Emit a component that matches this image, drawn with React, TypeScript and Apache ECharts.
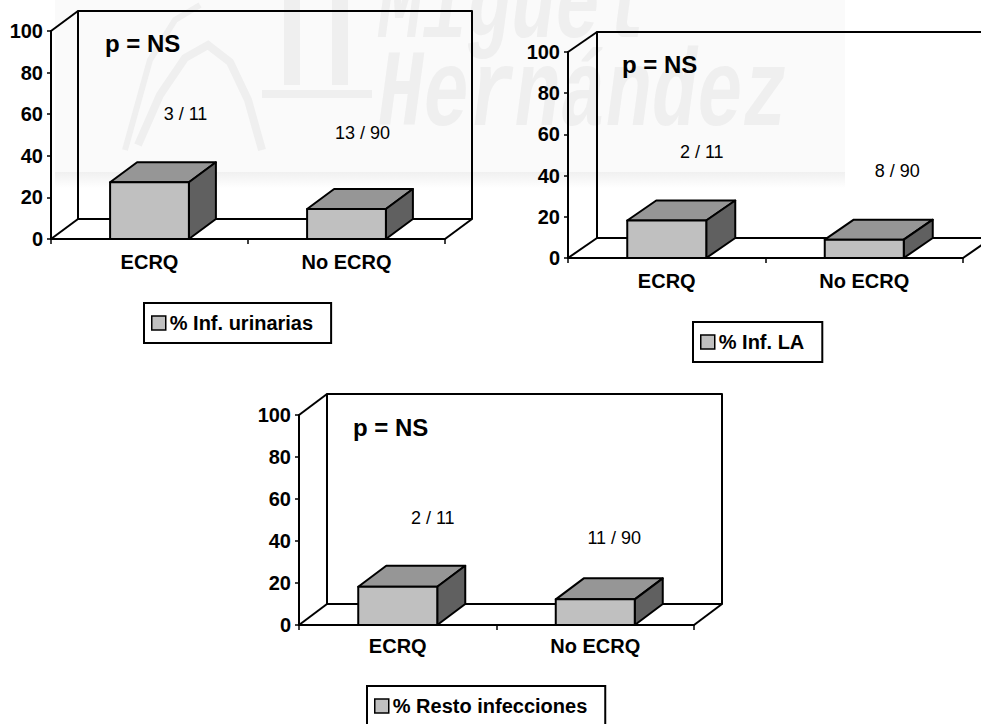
import React, { useEffect, useRef } from "react";
import * as echarts from "echarts";

// ---- data ----
const categories = ["ECRQ", "No ECRQ"];
const seriesNames = ["% Inf. urinarias", "% Inf. LA", "% Resto infecciones"];
// infected patients per group (ECRQ, No ECRQ) for each infection type
const infectedCounts = [
  [3, 13],
  [2, 8],
  [2, 11],
];
// patients per group (ECRQ, No ECRQ)
const groupTotals = [11, 90];
const pValueText = "p = NS";
const axisMin = 0;
const axisMax = 100;
const axisStep = 20;

// ---- layout ----
const FONT = 'Arial, "Liberation Sans", Helvetica, sans-serif';
const panels = [
  { left: 51, top: 31, width: 394, height: 208, depth: [27, -20], legendLeft: 144, legendTop: 303, catMargin: 13 },
  { left: 568, top: 52, width: 395, height: 206, depth: [29, -20], legendLeft: 693, legendTop: 322, catMargin: 13 },
  { left: 299, top: 415, width: 395, height: 210, depth: [28, -21], legendLeft: 367, legendTop: 686, catMargin: 11 },
];
// where each count label sits, relative to the top centre of the bar's front face
const countLabelShift = [
  [[36, -68], [16, -76]],
  [[35, -69], [33, -69]],
  [[35, -69], [19, -61]],
];

const FRONT = "#c0c0c0";
const TOP = "#969696";
const SIDE = "#606060";

function buildOption() {
  const grid = panels.map((p) => ({ left: p.left, top: p.top, width: p.width, height: p.height, containLabel: false }));

  const xAxis = panels.map((p, i) => ({
    type: "category",
    gridIndex: i,
    data: categories,
    axisLine: { show: true, lineStyle: { color: "#000", width: 2 } },
    axisTick: { show: true, length: 5, lineStyle: { color: "#000", width: 1.5 } },
    axisLabel: { color: "#000", fontWeight: "bold", fontSize: 20, fontFamily: FONT, margin: p.catMargin },
    splitLine: { show: false },
  }));

  const yAxis = panels.map((_, i) => ({
    type: "value",
    gridIndex: i,
    min: axisMin,
    max: axisMax,
    interval: axisStep,
    axisLine: { show: true, lineStyle: { color: "#000", width: 2 } },
    axisTick: { show: true, length: 4, lineStyle: { color: "#000", width: 1.5 } },
    axisLabel: { color: "#000", fontWeight: "bold", fontSize: 20, fontFamily: FONT, margin: 8 },
    splitLine: { show: false },
  }));

  const series: any[] = [];
  panels.forEach((p, i) => {
    const [dx, dy] = p.depth;
    // back wall, floor and side edges of the box
    series.push({
      type: "custom",
      name: "frame" + i,
      xAxisIndex: i,
      yAxisIndex: i,
      silent: true,
      z: 1,
      data: [[0, 0]],
      renderItem: (params: any) => {
        const cs = params.coordSys;
        const x = cs.x, y = cs.y, w = cs.width, h = cs.height;
        const line = { stroke: "#000", lineWidth: 2, fill: null, lineJoin: "round" };
        return {
          type: "group",
          children: [
            { type: "rect", shape: { x: x + dx, y: y + dy, width: w, height: h }, style: { ...line, fill: "none" } },
            { type: "line", shape: { x1: x, y1: y, x2: x + dx, y2: y + dy }, style: line },
            { type: "line", shape: { x1: x, y1: y + h, x2: x + dx, y2: y + h + dy }, style: line },
            { type: "line", shape: { x1: x + w, y1: y + h, x2: x + w + dx, y2: y + h + dy }, style: line },
          ],
        };
      },
    });

    // 3D bars with the count labels
    const data = categories.map((_, k) => [k, (infectedCounts[i][k] / groupTotals[k]) * 100]);
    series.push({
      type: "custom",
      name: seriesNames[i],
      xAxisIndex: i,
      yAxisIndex: i,
      z: 3,
      itemStyle: { color: FRONT, borderColor: "#000", borderWidth: 1.5 },
      encode: { x: 0, y: 1 },
      data,
      renderItem: (params: any, api: any) => {
        const k = api.value(0);
        const v = api.value(1);
        const topPt = api.coord([k, v]);
        const basePt = api.coord([k, 0]);
        const bw = api.size([1, 0])[0] * 0.4;
        const l = topPt[0] - bw / 2;
        const r = topPt[0] + bw / 2;
        const yt = topPt[1];
        const yb = basePt[1];
        const edge = { stroke: "#000", lineWidth: 2, lineJoin: "round" };
        const shift = countLabelShift[i][k];
        const label = infectedCounts[i][k] + " / " + groupTotals[k];
        return {
          type: "group",
          children: [
            { type: "polygon", shape: { points: [[l, yt], [l + dx, yt + dy], [r + dx, yt + dy], [r, yt]] }, style: { ...edge, fill: TOP } },
            { type: "polygon", shape: { points: [[r, yt], [r + dx, yt + dy], [r + dx, yb + dy], [r, yb]] }, style: { ...edge, fill: SIDE } },
            { type: "rect", shape: { x: l, y: yt, width: bw, height: yb - yt }, style: { ...edge, fill: FRONT } },
            {
              type: "text",
              style: {
                text: label,
                x: topPt[0] + shift[0],
                y: yt + shift[1],
                align: "center",
                verticalAlign: "middle",
                textAlign: "center",
                textVerticalAlign: "middle",
                font: "18px " + FONT,
                fill: "#000",
              },
            },
          ],
        };
      },
    });
  });

  const legend = panels.map((p, i) => ({
    data: [seriesNames[i]],
    left: p.legendLeft,
    top: p.legendTop,
    orient: "horizontal",
    icon: "rect",
    itemWidth: 14,
    itemHeight: 14,
    selectedMode: false,
    padding: [10, 18, 10, 7],
    borderColor: "#000",
    borderWidth: 2,
    backgroundColor: "#fff",
    itemStyle: { color: FRONT, borderColor: "#000", borderWidth: 1.5 },
    textStyle: { color: "#000", fontWeight: "bold", fontSize: 20, fontFamily: FONT, padding: [0, 0, 0, -1] },
  }));

  // faint university watermark behind the top charts
  const wm = "#efefef";
  const watermark: any[] = [
    { type: "rect", z: -20, shape: { x: 55, y: 0, width: 790, height: 172 }, style: { fill: "#fafafa" } },
    {
      type: "rect",
      z: -20,
      shape: { x: 55, y: 172, width: 790, height: 16 },
      style: {
        fill: new echarts.graphic.LinearGradient(0, 0, 0, 1, [
          { offset: 0, color: "#f0f0f0" },
          { offset: 1, color: "#ffffff" },
        ]),
      },
    },
    {
      type: "polyline",
      z: -19,
      shape: { points: [[138, 145], [160, 95], [185, 58], [208, 45], [230, 62], [248, 100], [262, 150]] },
      style: { stroke: wm, lineWidth: 8, fill: null },
    },
    {
      type: "polyline",
      z: -19,
      shape: { points: [[125, 150], [150, 60], [175, 20], [200, 5]] },
      style: { stroke: wm, lineWidth: 6, fill: null },
    },
    { type: "rect", z: -19, shape: { x: 284, y: 0, width: 16, height: 85 }, style: { fill: wm } },
    { type: "rect", z: -19, shape: { x: 332, y: 0, width: 16, height: 85 }, style: { fill: wm } },
    { type: "rect", z: -19, shape: { x: 262, y: 90, width: 110, height: 8 }, style: { fill: wm } },
    {
      type: "text",
      z: -19,
      x: 378,
      y: 62,
      scaleY: 1.45,
      style: { text: "Miguel", fill: wm, font: 'italic bold 74px "Liberation Mono", "DejaVu Sans Mono", monospace', textVerticalAlign: "bottom", verticalAlign: "bottom" },
    },
    {
      type: "text",
      z: -19,
      x: 378,
      y: 150,
      scaleY: 1.45,
      style: { text: "Hernández", fill: wm, font: 'italic bold 76px "Liberation Mono", "DejaVu Sans Mono", monospace', textVerticalAlign: "bottom", verticalAlign: "bottom" },
    },
  ];

  const pLabels = panels.map((p) => ({
    type: "text",
    z: 10,
    x: p.left + 54,
    y: p.top + 12,
    style: {
      text: pValueText,
      fill: "#000",
      font: "bold 24px " + FONT,
      textVerticalAlign: "middle",
      verticalAlign: "middle",
    },
  }));

  return {
    animation: false,
    backgroundColor: "#ffffff",
    grid,
    xAxis,
    yAxis,
    legend,
    series,
    graphic: [...watermark, ...pLabels],
  };
}

export default function App() {
  const ref = useRef<HTMLDivElement>(null);
  useEffect(() => {
    if (!ref.current) return;
    const chart = echarts.init(ref.current, null, { renderer: "svg" });
    chart.setOption(buildOption() as any);
    return () => chart.dispose();
  }, []);
  return <div ref={ref} style={{ position: "fixed", left: 0, top: 0, width: 981, height: 724 }} />;
}
